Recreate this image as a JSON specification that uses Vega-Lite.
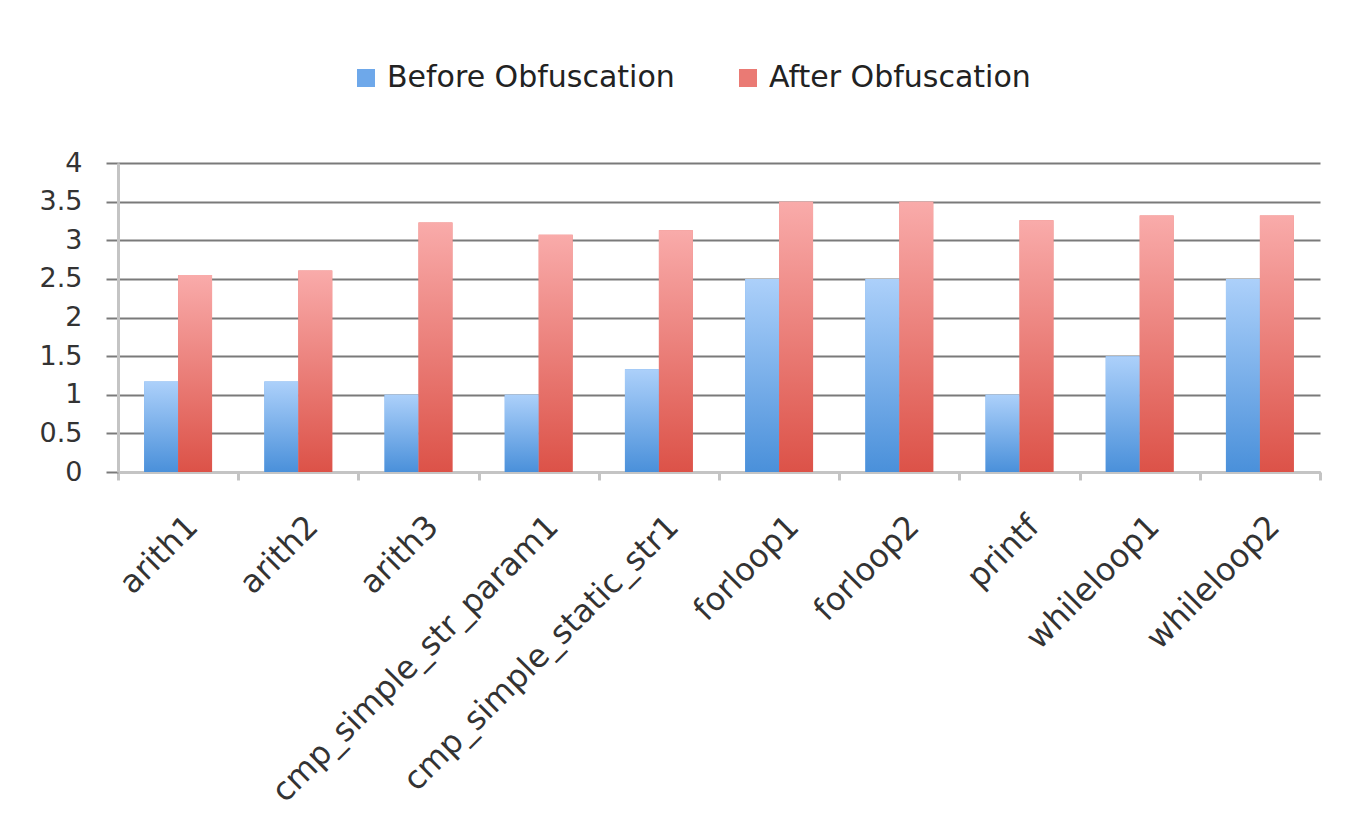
{
  "$schema": "https://vega.github.io/schema/vega-lite/v6.json",
  "width": 1202,
  "height": 309,
  "autosize": "none",
  "padding": {"left": 118, "top": 163, "right": 37, "bottom": 350},
  "background": "white",
  "data": {
    "values": [
      {"test": "arith1", "series": "Before Obfuscation", "value": 1.17},
      {"test": "arith1", "series": "After Obfuscation", "value": 2.55},
      {"test": "arith2", "series": "Before Obfuscation", "value": 1.17},
      {"test": "arith2", "series": "After Obfuscation", "value": 2.61},
      {"test": "arith3", "series": "Before Obfuscation", "value": 1.0},
      {"test": "arith3", "series": "After Obfuscation", "value": 3.23},
      {"test": "cmp_simple_str_param1", "series": "Before Obfuscation", "value": 1.0},
      {"test": "cmp_simple_str_param1", "series": "After Obfuscation", "value": 3.07},
      {"test": "cmp_simple_static_str1", "series": "Before Obfuscation", "value": 1.33},
      {"test": "cmp_simple_static_str1", "series": "After Obfuscation", "value": 3.13},
      {"test": "forloop1", "series": "Before Obfuscation", "value": 2.5},
      {"test": "forloop1", "series": "After Obfuscation", "value": 3.5},
      {"test": "forloop2", "series": "Before Obfuscation", "value": 2.5},
      {"test": "forloop2", "series": "After Obfuscation", "value": 3.5},
      {"test": "printf", "series": "Before Obfuscation", "value": 1.0},
      {"test": "printf", "series": "After Obfuscation", "value": 3.26},
      {"test": "whileloop1", "series": "Before Obfuscation", "value": 1.5},
      {"test": "whileloop1", "series": "After Obfuscation", "value": 3.32},
      {"test": "whileloop2", "series": "Before Obfuscation", "value": 2.5},
      {"test": "whileloop2", "series": "After Obfuscation", "value": 3.32}
    ]
  },
  "encoding": {
    "x": {
      "field": "test",
      "type": "nominal",
      "sort": null,
      "title": null,
      "scale": {"paddingInner": 0, "paddingOuter": 0},
      "axis": {
        "tickBand": "extent",
        "labelAngle": -45,
        "labelAlign": "right",
        "labelBaseline": "middle",
        "labelFont": "DejaVu Sans",
        "labelFontSize": 32,
        "labelColor": "#333333",
        "labelPadding": 41,
        "labelOffset": 14,
        "labelLimit": 0,
        "tickSize": 8,
        "tickColor": "#c4c4c4",
        "tickWidth": 3,
        "domainColor": "#c4c4c4",
        "domainWidth": 3,
        "grid": false
      }
    },
    "xOffset": {
      "field": "series",
      "type": "nominal",
      "scale": {"domain": ["Before Obfuscation", "After Obfuscation"], "paddingInner": 0, "paddingOuter": 0.77}
    },
    "y": {
      "field": "value",
      "type": "quantitative",
      "title": null,
      "scale": {"domain": [0, 4], "nice": false},
      "axis": {
        "values": [0, 0.5, 1, 1.5, 2, 2.5, 3, 3.5, 4],
        "format": "~g",
        "labelFont": "DejaVu Sans",
        "labelFontSize": 27,
        "labelColor": "#333333",
        "labelPadding": 24,
        "tickSize": 12,
        "tickColor": "#7a7a7a",
        "tickWidth": 2,
        "domainColor": "#c4c4c4",
        "domainWidth": 3,
        "grid": true,
        "gridColor": "#7a7a7a",
        "gridWidth": 2
      }
    }
  },
  "layer": [
    {
      "mark": {"type": "bar"},
      "encoding": {
        "color": {
          "field": "series",
          "type": "nominal",
          "scale": {"domain": ["Before Obfuscation", "After Obfuscation"], "range": ["#6ea8ea", "#ea7a74"]},
          "legend": {
            "title": null,
            "orient": "none",
            "legendX": 233,
            "legendY": -100,
            "direction": "horizontal",
            "symbolType": "square",
            "symbolSize": 324,
            "symbolStrokeWidth": 0,
            "labelFont": "DejaVu Sans",
            "labelFontSize": 30,
            "labelColor": "#222222",
            "labelOffset": 6,
            "labelLimit": 0,
            "columnPadding": 58
          }
        }
      }
    },
    {
      "transform": [{"filter": "datum.series === 'Before Obfuscation'"}],
      "mark": {
        "type": "bar",
        "color": {
          "gradient": "linear",
          "x1": 0, "y1": 0, "x2": 0, "y2": 1,
          "stops": [
            {"offset": 0, "color": "#acd0fa"},
            {"offset": 1, "color": "#4a90da"}
          ]
        }
      }
    },
    {
      "transform": [{"filter": "datum.series === 'After Obfuscation'"}],
      "mark": {
        "type": "bar",
        "color": {
          "gradient": "linear",
          "x1": 0, "y1": 0, "x2": 0, "y2": 1,
          "stops": [
            {"offset": 0, "color": "#f9abaa"},
            {"offset": 1, "color": "#dc5248"}
          ]
        }
      }
    }
  ],
  "config": {
    "view": {"stroke": null}
  }
}
